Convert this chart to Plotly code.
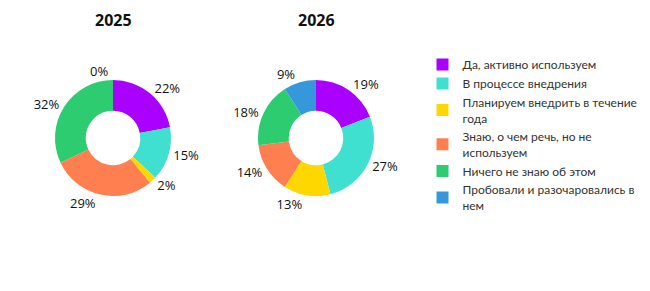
import plotly.graph_objects as go

labels = [
    "Да, активно используем",
    "В процессе внедрения",
    "Планируем внедрить в течение<br>года",
    "Знаю, о чем речь, но не<br>используем",
    "Ничего не знаю об этом",
    "Пробовали и разочаровались в<br>нем",
]
values_2025 = [22, 15, 2, 29, 32, 0]
values_2026 = [19, 27, 13, 14, 18, 9]
colors = ["#AA00FF", "#40E0D0", "#FFD700", "#FF7F50", "#2ECC71", "#3498DB"]
titles = ["2025", "2026"]

FONT = "Open Sans"

fig = go.Figure()
domains = [[55 / 650, 171 / 650], [258 / 650, 374 / 650]]
ydom = [95 / 291, 211 / 291]
for i, (vals, dom) in enumerate([(values_2025, domains[0]), (values_2026, domains[1])]):
    fig.add_trace(go.Pie(
        labels=labels,
        values=vals,
        hole=0.47,
        sort=False,
        direction="clockwise",
        rotation=0,
        marker=dict(colors=colors, line=dict(width=0)),
        textposition="outside",
        texttemplate="%{value}%",
        textfont=dict(size=13, color="#111", family=FONT),
        domain=dict(x=dom, y=ydom),
        showlegend=(i == 0),
        hoverinfo="label+value",
    ))

for t, x in zip(titles, [113 / 650, 316 / 650]):
    fig.add_annotation(text="<b>%s</b>" % t, x=x, y=1 - 20 / 291, xref="paper", yref="paper",
                       xanchor="center", yanchor="middle",
                       showarrow=False, font=dict(size=16, color="#111", family=FONT))

fig.update_layout(
    width=650, height=291,
    margin=dict(l=0, r=0, t=0, b=0, autoexpand=False),
    paper_bgcolor="white",
    plot_bgcolor="white",
    font=dict(family=FONT, color="#333"),
    legend=dict(x=0.65, y=1 - 50 / 291, xanchor="left", yanchor="top",
                font=dict(size=12, color="#333", family="Lato"),
                itemsizing="constant"),
)

fig.write_html("out.html")
